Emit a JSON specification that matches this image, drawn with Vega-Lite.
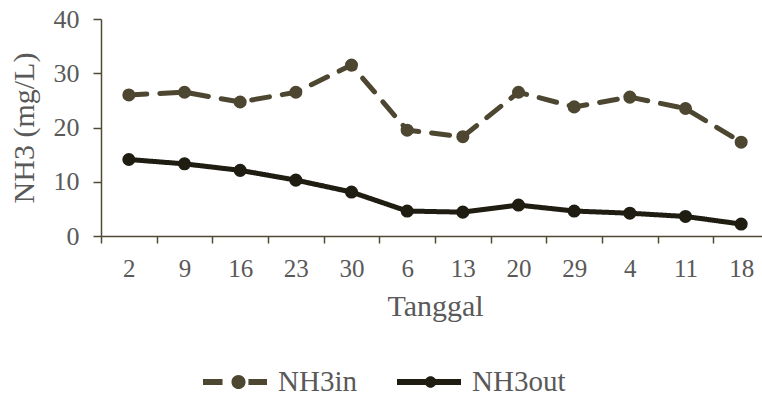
{
  "$schema": "https://vega.github.io/schema/vega-lite/v6.json",
  "autosize": {"type": "none"},
  "padding": {"left": 101, "top": 19, "right": 0, "bottom": 164},
  "width": 668,
  "height": 217,
  "background": "white",
  "config": {
    "view": {"stroke": null},
    "font": "Liberation Serif",
    "axis": {
      "labelFont": "Liberation Serif",
      "titleFont": "Liberation Serif",
      "labelColor": "#595959",
      "titleColor": "#595959",
      "domainColor": "#4f4a35",
      "tickColor": "#4f4a35",
      "domainWidth": 1.5,
      "tickWidth": 1.5,
      "grid": false,
      "titleFontWeight": "normal"
    },
    "legend": {
      "labelFont": "Liberation Serif",
      "labelColor": "#595959"
    }
  },
  "data": {
    "values": [
      {"tanggal": "2", "series": "NH3in", "value": 26.0},
      {"tanggal": "9", "series": "NH3in", "value": 26.5},
      {"tanggal": "16", "series": "NH3in", "value": 24.7},
      {"tanggal": "23", "series": "NH3in", "value": 26.5},
      {"tanggal": "30", "series": "NH3in", "value": 31.5},
      {"tanggal": "6", "series": "NH3in", "value": 19.5},
      {"tanggal": "13", "series": "NH3in", "value": 18.3},
      {"tanggal": "20", "series": "NH3in", "value": 26.5},
      {"tanggal": "29", "series": "NH3in", "value": 23.8},
      {"tanggal": "4", "series": "NH3in", "value": 25.6},
      {"tanggal": "11", "series": "NH3in", "value": 23.5},
      {"tanggal": "18", "series": "NH3in", "value": 17.3},
      {"tanggal": "2", "series": "NH3out", "value": 14.1},
      {"tanggal": "9", "series": "NH3out", "value": 13.3},
      {"tanggal": "16", "series": "NH3out", "value": 12.1},
      {"tanggal": "23", "series": "NH3out", "value": 10.3},
      {"tanggal": "30", "series": "NH3out", "value": 8.1},
      {"tanggal": "6", "series": "NH3out", "value": 4.6},
      {"tanggal": "13", "series": "NH3out", "value": 4.4},
      {"tanggal": "20", "series": "NH3out", "value": 5.7},
      {"tanggal": "29", "series": "NH3out", "value": 4.6},
      {"tanggal": "4", "series": "NH3out", "value": 4.2},
      {"tanggal": "11", "series": "NH3out", "value": 3.6},
      {"tanggal": "18", "series": "NH3out", "value": 2.2}
    ]
  },
  "encoding": {
    "x": {
      "field": "tanggal",
      "type": "ordinal",
      "sort": null,
      "scale": {"paddingInner": 0, "paddingOuter": 0},
      "axis": {
        "title": "Tanggal",
        "labelAngle": 0,
        "labelFontSize": 25,
        "titleFontSize": 30,
        "tickBand": "extent",
        "tickSize": 7,
        "labelPadding": 13,
        "titlePadding": 10
      }
    },
    "y": {
      "field": "value",
      "type": "quantitative",
      "scale": {"domain": [0, 40]},
      "axis": {
        "title": "NH3 (mg/L)",
        "values": [0, 10, 20, 30, 40],
        "labelFontSize": 26,
        "titleFontSize": 30,
        "tickSize": 8,
        "labelPadding": 14,
        "titlePadding": 14
      }
    },
    "color": {
      "field": "series",
      "type": "nominal",
      "scale": {"domain": ["NH3in", "NH3out"], "range": ["#4d4630", "#1f1c12"]},
      "legend": {
        "title": null,
        "orient": "none",
        "direction": "horizontal",
        "legendX": 102,
        "legendY": 331,
        "labelFontSize": 29,
        "symbolType": "circle",
        "symbolSize": 4096,
        "symbolStrokeWidth": 0,
        "columnPadding": 40,
        "labelOffset": 11,
        "encode": {
          "symbols": {
            "update": {
              "shape": {"signal": "datum.value === 'NH3in' ? 'M-1,-0.09L-0.39,-0.09L-0.39,0.09L-1,0.09Z M0.42,-0.09L1,-0.09L1,0.09L0.42,0.09Z M0.33,0A0.22,0.22 0 1 1 -0.11,0A0.22,0.22 0 1 1 0.33,0Z' : 'M-1,-0.09L1,-0.09L1,0.09L-1,0.09Z M0.23,0A0.18,0.18 0 1 1 -0.13,0A0.18,0.18 0 1 1 0.23,0Z'"},
              "fill": {"signal": "scale('color', datum.value)"},
              "fillOpacity": {"value": 1},
              "strokeWidth": {"value": 0}
            }
          }
        }
      }
    }
  },
  "layer": [
    {
      "mark": {"type": "line", "strokeWidth": 5, "strokeCap": "round"},
      "encoding": {
        "strokeDash": {
          "field": "series",
          "type": "nominal",
          "scale": {"domain": ["NH3in", "NH3out"], "range": [[18, 13], [1, 0]]},
          "legend": null
        }
      }
    },
    {
      "mark": {"type": "point", "filled": true, "size": 170, "opacity": 1},
      "encoding": {}
    }
  ]
}
